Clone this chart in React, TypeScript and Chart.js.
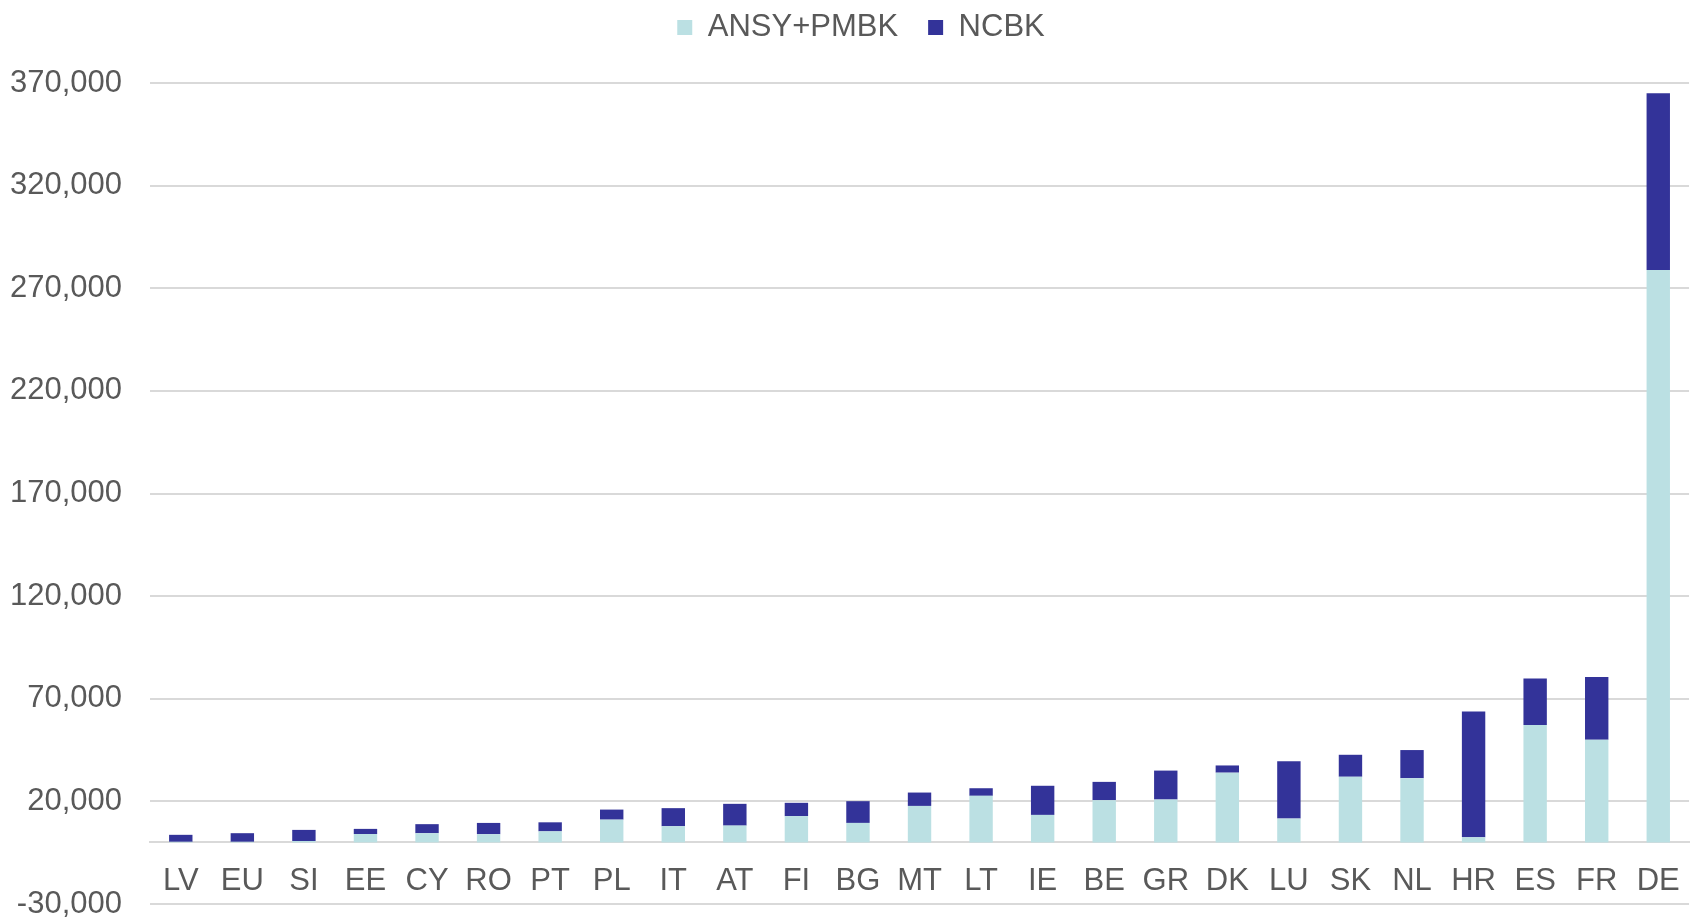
import React, { useEffect, useRef } from "react";
import { Chart, registerables } from "chart.js";

Chart.register(...registerables);

const categories = ["LV", "EU", "SI", "EE", "CY", "RO", "PT", "PL", "IT", "AT", "FI", "BG", "MT", "LT", "IE", "BE", "GR", "DK", "LU", "SK", "NL", "HR", "ES", "FR", "DE"];
const ansyPmbk = [300, 300, 700, 4100, 4500, 4000, 5400, 11100, 7900, 8200, 12800, 9500, 17800, 22700, 13400, 20600, 20900, 34000, 11600, 32000, 31300, 2500, 57200, 50000, 278900];
const ncbk = [3400, 4200, 5400, 2500, 4400, 5500, 4400, 4900, 8800, 10600, 6500, 10600, 6500, 3700, 14200, 8900, 14100, 3500, 28000, 10700, 13700, 61300, 22700, 30600, 86100];
const yMin = -30000;
const yMax = 370000;
const yStep = 50000;

const FONT = "'Liberation Sans', Arial, sans-serif";
const TEXT = "#595959";

const legendTweak = {
  id: "legendTweak",
  beforeInit(chart: any) {
    const orig = chart.legend.fit;
    chart.legend.fit = function () {
      orig.bind(chart.legend)();
      this.height = 101;
    };
  },
  afterLayout(chart: any) {
    chart.legend.left += 12;
    chart.legend.right += 12;
  },
};

export default function App() {
  const ref = useRef<HTMLCanvasElement>(null);
  useEffect(() => {
    if (!ref.current) return;
    const chart = new Chart(ref.current, {
      type: "bar",
      data: {
        labels: categories,
        datasets: [
          { label: "ANSY+PMBK", data: ansyPmbk, backgroundColor: "#BBE0E3", barPercentage: 0.38, categoryPercentage: 1 },
          { label: "NCBK", data: ncbk, backgroundColor: "#333399", barPercentage: 0.38, categoryPercentage: 1 },
        ],
      },
      options: {
        responsive: false,
        animation: false,
        devicePixelRatio: 1,
        layout: { padding: { top: -18, left: 8, right: 10, bottom: 19 } },
        plugins: {
          legend: {
            position: "top",
            labels: {
              font: { family: FONT, size: 31 },
              color: TEXT,
              boxWidth: 15,
              boxHeight: 15,
              padding: 30,
            },
          },
          tooltip: { enabled: false },
        },
        scales: {
          x: {
            stacked: true,
            position: { y: 0 } as any,
            afterFit(scale: any) {
              scale.height = 0;
              scale.paddingTop = 0;
              scale.paddingBottom = 0;
            },
            grid: { display: false, drawTicks: false },
            border: { display: true, color: "#D9D9D9", width: 2 },
            ticks: { font: { family: FONT, size: 31 }, color: TEXT, padding: 20, maxRotation: 0, autoSkip: false },
          },
          y: {
            stacked: true,
            min: yMin,
            max: yMax,
            afterFit(scale: any) {
              scale.width = 142;
              scale.paddingBottom = 0;
            },
            grid: { color: "#D9D9D9", lineWidth: 2, drawTicks: false },
            border: { display: false },
            ticks: {
              stepSize: yStep,
              font: { family: FONT, size: 31 },
              color: TEXT,
              padding: 28,
              callback: (v: any) => Number(v).toLocaleString("en-US"),
            },
          },
        },
      },
      plugins: [legendTweak],
    });
    return () => chart.destroy();
  }, []);
  return (
    <div style={{ position: "fixed", left: 0, top: 0, width: 1700, height: 923, background: "#fff" }}>
      <canvas ref={ref} width={1700} height={923} style={{ width: 1700, height: 923 }} />
    </div>
  );
}
